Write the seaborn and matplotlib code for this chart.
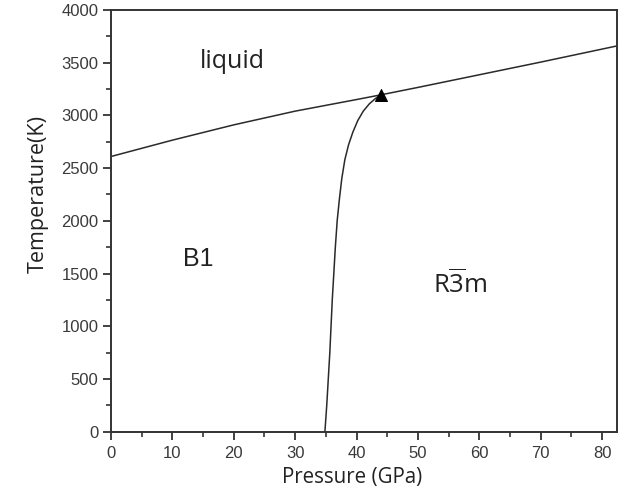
import matplotlib
matplotlib.use("Agg")
import matplotlib.pyplot as plt
from matplotlib.ticker import MultipleLocator
import pandas as pd
import seaborn as sns

# Melting curve (liquid boundary)
melt_p = [0, 10, 20, 30, 40, 44, 50, 60, 70, 82.4]
melt_t = [2610, 2765, 2910, 3040, 3150, 3195, 3265, 3385, 3505, 3658]

# B1 / R-3m phase boundary
trans_p = [34.85, 35.15, 35.4, 35.65, 35.85, 36.05, 36.3, 36.55, 36.85,
           37.2, 37.6, 38.1, 38.7, 39.4, 40.2, 41.1, 42.1, 43.1, 44.0]
trans_t = [0, 250, 500, 750, 1000, 1250, 1500, 1750, 2000,
           2200, 2400, 2580, 2720, 2840, 2950, 3040, 3110, 3160, 3195]

# Triple point
triple_p = [44.0]
triple_t = [3195]

sns.set_theme(style="ticks")
plt.rcParams["font.family"] = ["Liberation Sans", "DejaVu Sans"]
plt.rcParams["mathtext.fontset"] = "custom"
plt.rcParams["mathtext.rm"] = "Open Sans"

fig = plt.figure(figsize=(6.29, 4.96), dpi=100)
ax = fig.add_axes([0.1765, 0.1296, 0.804, 0.8504])

melt = pd.DataFrame({"P": melt_p, "T": melt_t})
trans = pd.DataFrame({"P": trans_p, "T": trans_t})
triple = pd.DataFrame({"P": triple_p, "T": triple_t})

line_kw = dict(color="#2a2a2a", linewidth=1.1, sort=False, estimator=None)
sns.lineplot(data=melt, x="P", y="T", ax=ax, **line_kw)
sns.lineplot(data=trans, x="P", y="T", ax=ax, **line_kw)
sns.scatterplot(data=triple, x="P", y="T", ax=ax, marker="^", s=75,
                color="black", edgecolor="black", zorder=5)

ax.set_xlim(0, 82.4)
ax.set_ylim(0, 4000)
ax.xaxis.set_major_locator(MultipleLocator(10))
ax.xaxis.set_minor_locator(MultipleLocator(5))
ax.yaxis.set_major_locator(MultipleLocator(500))
ax.yaxis.set_minor_locator(MultipleLocator(250))

tick_color = "#333333"
for s in ax.spines.values():
    s.set_linewidth(1.4)
    s.set_color(tick_color)
ax.tick_params(which="major", direction="out", length=6, width=1.3,
               color=tick_color, labelsize=12, labelcolor="#3a3a3a", pad=3)
ax.tick_params(axis="x", which="major", pad=4)
ax.tick_params(which="minor", direction="out", length=3.5, width=1.2,
               color=tick_color)

label_font = ["Open Sans", "DejaVu Sans"]
ax.set_xlabel("Pressure (GPa)", family=label_font, fontsize=14.8,
              color="#222222")
ax.xaxis.set_label_coords(0.4776, -0.083)
ax.set_ylabel("Temperature(K)", family=label_font, fontsize=15.5,
              color="#222222")
ax.yaxis.set_label_coords(-0.124, 0.563)

ax.text(19.7, 3510, "liquid", family=label_font, fontsize=18,
        ha="center", va="center", color="#222222")
ax.text(14.2, 1640, "B1", family=["Liberation Sans"], fontsize=18,
        ha="center", va="center", color="#222222")
ax.text(56.9, 1400, r"R$\mathregular{\overline{3}}$m", family=label_font,
        fontsize=18.5, ha="center", va="center", color="#222222")

fig.savefig("out.png", dpi=100, facecolor="white")
